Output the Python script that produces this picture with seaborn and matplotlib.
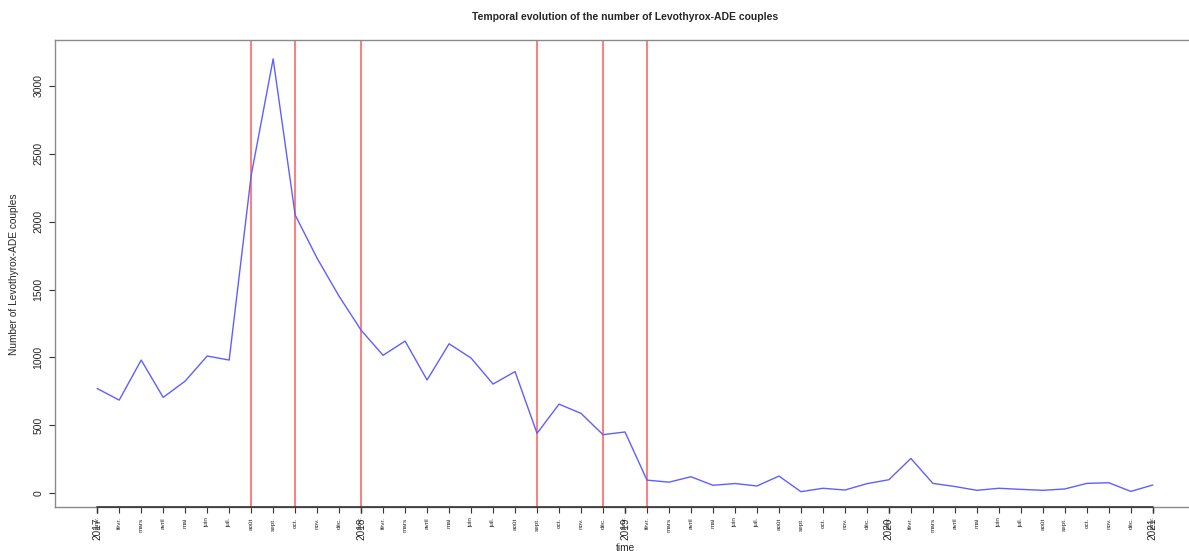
import numpy as np
import pandas as pd
import matplotlib
matplotlib.use("Agg")
import matplotlib.pyplot as plt
import seaborn as sns

# ---- data (monthly, Jan 2017 .. Jan 2021) ----
start_year = 2017
counts = [770, 685, 980, 705, 825, 1010, 980,        # 2017 janv..juil
          2340, 3200, 2050, 1730, 1450,               # 2017 août..déc
          1200, 1015, 1120, 833, 1100, 995, 803, 895,  # 2018 janv..août
          440, 655, 587, 430,                          # 2018 sept..déc
          450, 95, 80, 120, 57, 70, 52, 125, 10, 35, 22, 69,   # 2019
          98, 255, 71, 48, 20, 35, 27, 20, 30, 71, 76, 12,     # 2020
          59]                                                  # 2021 janv
month_names = ["janv.", "févr.", "mars", "avril", "mai", "juin", "juil.",
               "août", "sept.", "oct.", "nov.", "déc."]
year_labels = ["2017", "2018", "2019", "2020", "2021"]
# red reference lines: month offsets from Jan 2017
event_offsets = [7, 9, 12, 20, 23, 25]

n = len(counts)
time = start_year + np.arange(n) / 12.0
df = pd.DataFrame({"time": time, "count": counts})

sns.set_style("white")
plt.rcParams["font.family"] = ["Liberation Sans", "DejaVu Sans"]

W, H = 1189, 551
fig = plt.figure(figsize=(W / 100, H / 100), dpi=100)
ax = fig.add_axes([55 / W, (H - 507) / H, (1195 - 55) / W, (507 - 40) / H])

for off in event_offsets:
    ax.axvline(start_year + off / 12.0, color="#ff5a5a", lw=1.1, zorder=1)

sns.lineplot(data=df, x="time", y="count", color="#5f5fff", lw=1.0, ax=ax, zorder=3)

pad = 1.92 / 12
ax.set_xlim(time[0] - pad, time[-1] + pad)
ax.set_ylim(-103, 3339)

# y axis
ax.set_yticks(np.arange(0, 3001, 500))
ax.tick_params(axis="y", labelrotation=90, labelsize=7.5, length=4.3, width=0.8,
               pad=4, color="#333333", left=True)
for lab in ax.get_yticklabels():
    lab.set_va("center")

# x axis: years (major) + months (minor)
ax.xaxis.remove_overlapping_locs = False
year_pos = [start_year + i for i in range(len(year_labels))]
ax.set_xticks(year_pos)
ax.set_xticklabels(year_labels)
ax.set_xticks(time, minor=True)
ax.set_xticklabels([month_names[i % 12] for i in range(n)], minor=True)
ax.tick_params(axis="x", which="major", labelrotation=90, labelsize=7.2,
               length=4.5, width=1.0, pad=3, color="#222222", bottom=True)
ax.tick_params(axis="x", which="minor", labelrotation=90, labelsize=4.6,
               length=4.5, width=0.8, pad=3, color="#333333", bottom=True)

for side in ["top", "left", "right", "bottom"]:
    ax.spines[side].set_color("#8a8a8a")
    ax.spines[side].set_linewidth(1.0)
ax.axhline(ax.get_ylim()[0], xmin=pad / (time[-1] - time[0] + 2 * pad),
           xmax=1 - pad / (time[-1] - time[0] + 2 * pad),
           color="#333333", lw=1.2, clip_on=False, zorder=5)

ax.set_xlabel("")
ax.set_ylabel("")
fig.text(625 / W, 1 - 17 / H, "Temporal evolution of the number of Levothyrox-ADE couples",
         ha="center", va="center", fontsize=7.5, fontweight="bold")
fig.text(14 / W, 1 - 274 / H, "Number of Levothyrox-ADE couples", rotation=90,
         ha="center", va="center", fontsize=7.3)
fig.text(625 / W, 1 - 548 / H, "time", ha="center", va="center", fontsize=7.3)

fig.savefig("out.png", dpi=100)
